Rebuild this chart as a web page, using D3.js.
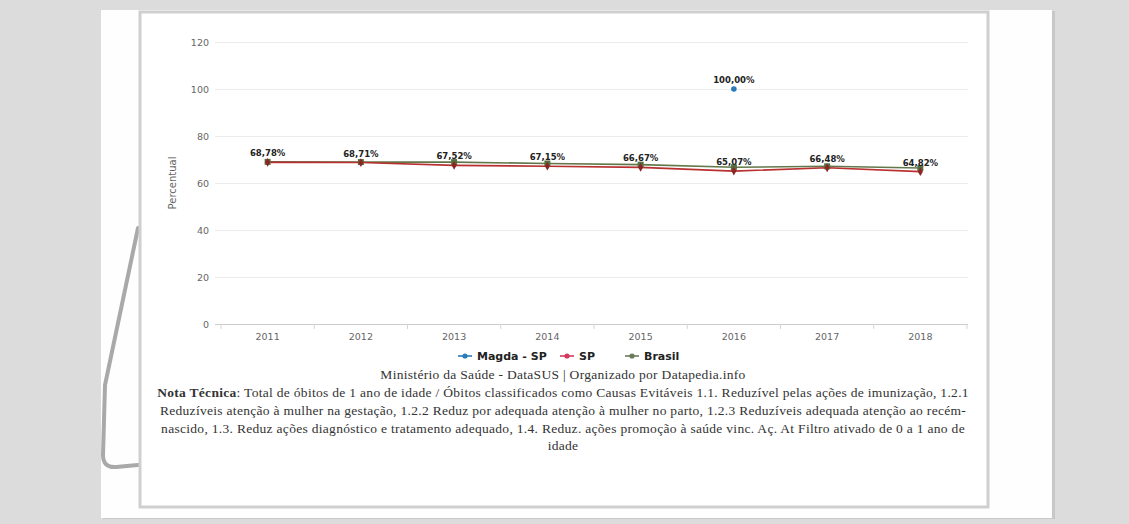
<!DOCTYPE html>
<html>
<head>
<meta charset="utf-8">
<script src="https://cdn.jsdelivr.net/npm/d3@7"></script>
<style>
  body { margin: 0; background: #dcdcdc; }
  svg { display: block; }
</style>
</head>
<body>
<div id="chart"></div>
<script>
// data
var years = ["2011", "2012", "2013", "2014", "2015", "2016", "2017", "2018"];
var magda = [null, null, null, null, null, 100.00, null, null];
var sp = [68.78, 68.71, 67.52, 67.15, 66.67, 65.07, 66.48, 64.82];
var brasil = [69.0, 68.9, 68.9, 68.3, 67.8, 66.7, 67.1, 66.4];
var yTicks = [0, 20, 40, 60, 80, 100, 120];

var seriesNames = ["Magda - SP", "SP", "Brasil"];
var seriesColors = ["#2b7bba", "#b8302f", "#62784a"];
var legendColors = ["#2b7bba", "#d23a5c", "#6b7a5a"];

var notes = [
  "Total de óbitos de 1 ano de idade / Óbitos classificados como Causas Evitáveis 1.1. Reduzível pelas ações de imunização, 1.2.1",
  "Reduzíveis atenção à mulher na gestação, 1.2.2 Reduz por adequada atenção à mulher no parto, 1.2.3 Reduzíveis adequada atenção ao recém-",
  "nascido, 1.3. Reduz ações diagnóstico e tratamento adequado, 1.4. Reduz. ações promoção à saúde vinc. Aç. At Filtro ativado de 0 a 1 ano de",
  "idade"
];

var W = 1129, H = 524;
var svg = d3.select("#chart").append("svg")
    .attr("width", W)
    .attr("height", H);

// background + page
svg.append("rect").attr("width", W).attr("height", H).attr("fill", "#dcdcdc");
svg.append("rect").attr("x", 103).attr("y", 11).attr("width", 952).attr("height", 508).attr("fill", "#c8c8c8");
svg.append("rect").attr("x", 101).attr("y", 10).attr("width", 951).attr("height", 508).attr("fill", "#fefefe");

// curled page edge on the left
svg.append("path")
    .attr("d", "M138,228 L105,385 L103,455 Q103,468 116,467 L138,465")
    .attr("fill", "none")
    .attr("stroke", "#a9a9a9")
    .attr("stroke-width", 4)
    .attr("stroke-linecap", "round");

// inner frame
svg.append("rect").attr("x", 140).attr("y", 12).attr("width", 848).attr("height", 495)
    .attr("fill", "#fff")
    .attr("stroke", "#cfcfcf")
    .attr("stroke-width", 3);

var x = d3.scaleBand().domain(years).range([221, 967]);
var y = d3.scaleLinear().domain([0, 120]).range([324, 42]);
var gridLeft = 215, gridRight = 968;

// y grid + labels
var yAxis = svg.append("g")
    .attr("transform", "translate(" + gridLeft + ",0)")
    .call(d3.axisLeft(y).tickValues(yTicks).tickSize(-(gridRight - gridLeft)).tickPadding(6));
yAxis.select(".domain").remove();
yAxis.selectAll(".tick line").attr("stroke", function(d) { return d === 0 ? "#cccccc" : "#ebebeb"; });
yAxis.selectAll(".tick text")
    .attr("fill", "#666")
    .style("font-family", "DejaVu Sans")
    .style("font-size", "9.5px");

// x axis labels
var xAxis = svg.append("g")
    .attr("transform", "translate(0,324)")
    .call(d3.axisBottom(x).tickSize(0).tickPadding(9));
xAxis.select(".domain").remove();
xAxis.selectAll(".tick text")
    .attr("fill", "#666")
    .style("font-family", "DejaVu Sans")
    .style("font-size", "9.5px");

// boundary ticks on x axis
var bounds = years.map(function(d) { return x(d); }).concat([x.range()[1]]);
svg.append("g").selectAll("line")
    .data(bounds)
    .enter()
    .append("line")
    .attr("x1", function(d) { return d; })
    .attr("x2", function(d) { return d; })
    .attr("y1", 324)
    .attr("y2", 329)
    .attr("stroke", "#d5d5d5");

// y axis title
svg.append("text")
    .attr("transform", "translate(176," + ((y(0) + y(120)) / 2) + ") rotate(-90)")
    .attr("text-anchor", "middle")
    .attr("fill", "#666")
    .style("font-family", "DejaVu Sans")
    .style("font-size", "10px")
    .text("Percentual");

var cx = function(i) { return x(years[i]) + x.bandwidth() / 2; };
var line = d3.line()
    .defined(function(d) { return d != null; })
    .x(function(d, i) { return cx(i); })
    .y(function(d) { return y(d); });

// Brasil
svg.append("path").datum(brasil)
    .attr("d", line).attr("fill", "none")
    .attr("stroke", seriesColors[2]).attr("stroke-width", 1.6);
// SP
svg.append("path").datum(sp)
    .attr("d", line).attr("fill", "none")
    .attr("stroke", seriesColors[1]).attr("stroke-width", 1.6);

svg.append("g").selectAll("rect")
    .data(brasil)
    .enter()
    .append("rect")
    .attr("x", function(d, i) { return cx(i) - 3; })
    .attr("y", function(d) { return y(d) - 3; })
    .attr("width", 6).attr("height", 6)
    .attr("fill", "#557040");

svg.append("g").selectAll("path")
    .data(sp)
    .enter()
    .append("path")
    .attr("transform", function(d, i) { return "translate(" + cx(i) + "," + y(d) + ")"; })
    .attr("d", d3.symbol().type(d3.symbolDiamond).size(22))
    .attr("fill", "#8e2525");

// Magda
svg.append("g").selectAll("circle")
    .data(magda.map(function(v, i) { return {v: v, i: i}; }).filter(function(d) { return d.v != null; }))
    .enter()
    .append("circle")
    .attr("cx", function(d) { return cx(d.i); })
    .attr("cy", function(d) { return y(d.v); })
    .attr("r", 2.8)
    .attr("fill", seriesColors[0]);

var fmt = function(v) { return d3.format(".2f")(v).replace(".", ",") + "%"; };

// value labels
var labelData = sp.map(function(v, i) { return {v: v, i: i}; })
    .concat(magda.map(function(v, i) { return {v: v, i: i}; }).filter(function(d) { return d.v != null; }));
svg.append("g").selectAll("text")
    .data(labelData)
    .enter()
    .append("text")
    .attr("x", function(d) { return cx(d.i); })
    .attr("y", function(d) { return y(d.v) - 6; })
    .attr("text-anchor", "middle")
    .attr("fill", "#222")
    .style("font-family", "DejaVu Sans")
    .style("font-weight", "bold")
    .style("font-size", "8.5px")
    .text(function(d) { return fmt(d.v); });

// legend
var legendX = [458, 560, 625];
var leg = svg.append("g").selectAll("g")
    .data(seriesNames)
    .enter()
    .append("g")
    .attr("transform", function(d, i) { return "translate(" + legendX[i] + ",356)"; });
leg.append("line")
    .attr("x1", 0).attr("x2", 14)
    .attr("stroke", function(d, i) { return legendColors[i]; })
    .attr("stroke-width", 1.6);
leg.append("circle")
    .attr("cx", 7).attr("r", 2.6)
    .attr("fill", function(d, i) { return legendColors[i]; });
leg.append("text")
    .attr("x", 19).attr("y", 4)
    .attr("fill", "#222")
    .style("font-family", "DejaVu Sans")
    .style("font-weight", "bold")
    .style("font-size", "11px")
    .text(function(d) { return d; });

// source and technical note
var foot = svg.append("g")
    .style("font-family", "Liberation Serif")
    .style("font-size", "13.5px")
    .style("letter-spacing", "0.3px")
    .attr("fill", "#333")
    .attr("text-anchor", "middle");
foot.append("text").attr("x", 563).attr("y", 379)
    .text("Ministério da Saúde - DataSUS | Organizado por Datapedia.info");

var first = foot.append("text").attr("x", 563).attr("y", 397);
first.append("tspan").style("font-weight", "bold").text("Nota Técnica");
first.append("tspan").text(": " + notes[0]);

foot.selectAll("text.note")
    .data(notes.slice(1))
    .enter()
    .append("text")
    .attr("class", "note")
    .attr("x", 563)
    .attr("y", function(d, i) { return 415 + i * 17.5; })
    .text(function(d) { return d; });
</script>
</body>
</html>
